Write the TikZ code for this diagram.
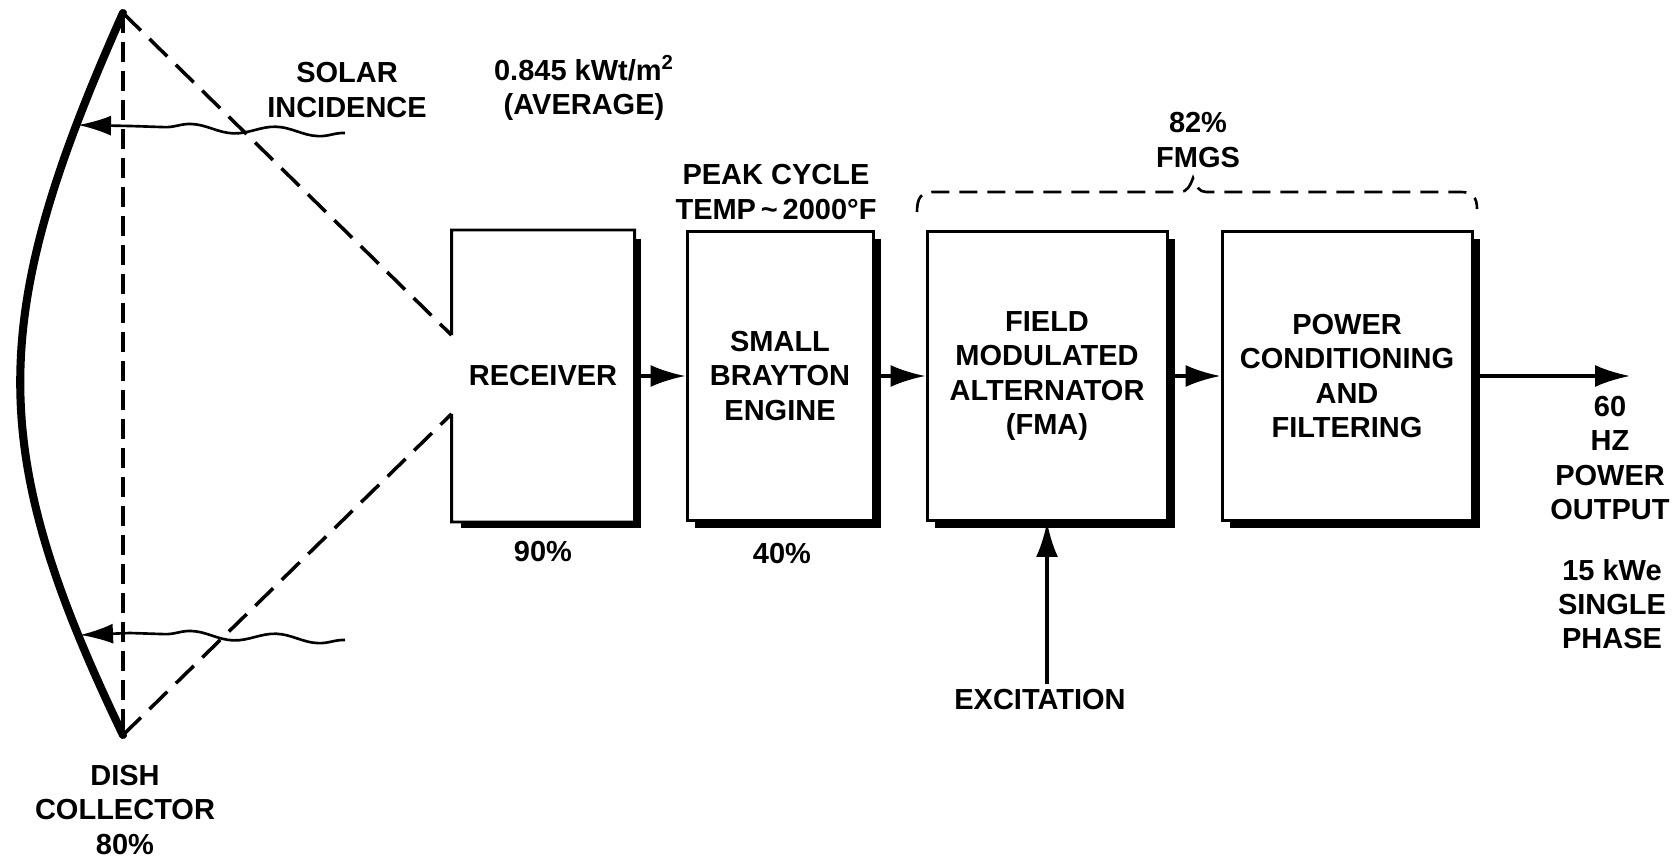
\documentclass[tikz,border=0pt]{standalone}
\usepackage{fontspec}
\setmainfont{Liberation Sans}
\usetikzlibrary{positioning,arrows.meta,calc,shadows,decorations.pathmorphing}

\tikzset{
  block/.style={draw, line width=1.7pt, fill=white, align=center, minimum height=57.8mm,
    drop shadow={shadow xshift=1.5mm, shadow yshift=-1.5mm, fill=black, opacity=1}},
  flow/.style={line width=1.9pt, -{Latex[length=7mm, width=4.4mm]}},
  cone/.style={line width=2pt, dash pattern=on 5mm off 2.4mm},
  dishaxis/.style={line width=2pt, dash pattern=on 4mm off 1.8mm},
  sunray/.style={line width=1.5pt, -{Latex[length=6.6mm, width=4mm]},
    decoration={snake, segment length=17mm, amplitude=0.8mm}},
  lbl/.style={align=center},
}

\begin{document}
\begin{tikzpicture}[x=0.2mm, y=-0.2mm, font=\bfseries\fontsize{16.5}{19.5}\selectfont]
  \useasboundingbox (0,0) rectangle (1677,859);
  % dish collector
  \coordinate (dishtop) at (123,13);
  \coordinate (dishbot) at (123,735);
  \draw[line width=4.6pt, line cap=round] (dishtop) .. controls (-14,320) and (-14,450) .. (dishbot);
  \draw[dishaxis] (dishtop) -- (dishbot);
  \node[lbl] (dishlbl) at (125,810) {DISH\\COLLECTOR\\80\%};

  % blocks
  \node[block, draw=none, minimum width=36mm] (recv) at (543,376) {RECEIVER};
  \node[block, minimum width=37.2mm] (engine) at (780,376) {SMALL\\BRAYTON\\ENGINE};
  \node[block, minimum width=48mm] (fma) at (1047,376) {FIELD\\MODULATED\\ALTERNATOR\\(FMA)};
  \node[block, minimum width=50mm] (pcf) at (1347,376) {POWER\\CONDITIONING\\AND\\FILTERING};

  % receiver outline, open aperture on the left
  \coordinate (apt) at ($(recv.north west)!0.36!(recv.south west)$);
  \coordinate (apb) at ($(recv.north west)!0.63!(recv.south west)$);
  \draw[line width=1.7pt] (apt) |- (recv.north east) |- (recv.south west) -- (apb);

  % cone onto the aperture
  \draw[cone] (dishtop) -- (apt);
  \draw[cone] (dishbot) -- (apb);

  % solar rays
  \coordinate (sun1) at (345,133); \coordinate (hit1) at (78,125);
  \coordinate (sun2) at (345,640); \coordinate (hit2) at (80,635);
  \draw[sunray] (sun1) decorate {-- (130,126)} -- (hit1);
  \draw[sunray] (sun2) decorate {-- (130,633)} -- (hit2);
  \node[lbl] (solar) at (347,90) {SOLAR\\INCIDENCE};
  \node[lbl] (flux) at (584,88) {0.845 kWt/m\textsuperscript{2}\\(AVERAGE)};

  % power flow
  \draw[flow] (recv) -- (engine);
  \draw[flow] (engine) -- (fma);
  \draw[flow] (fma) -- (pcf);
  \coordinate (out) at (1630,376);
  \draw[flow] (pcf) -- (out);
  \node[lbl] (outlbl) at (1610,458) {60\\HZ\\POWER\\OUTPUT};
  \node[lbl] (ratelbl) at (1612,604) {15 kWe\\SINGLE\\PHASE};

  % excitation
  \node (exc) at (1040,700) {EXCITATION};
  \draw[flow] (exc.north -| fma.south) -- (fma.south);

  % efficiencies, temperature
  \node (effrecv) at (543,552) {90\%};
  \node (effeng) at (782,554) {40\%};
  \node[lbl] (peak) at (776,192) {PEAK CYCLE\\TEMP\,\textasciitilde\,2000°F};

  % FMGS bracket
  \draw[line width=1.5pt, dash pattern=on 3.6mm off 2mm] (917,212) .. controls (917,198) and (921,192) .. (933,192)
    -- (1180,192) .. controls (1187,192) and (1190,186) .. (1193,178)
    .. controls (1196,186) and (1199,192) .. (1206,192) -- (1461,192)
    .. controls (1473,192) and (1477,198) .. (1477,209);
  \node[lbl] (fmgs) at (1198,140) {82\%\\FMGS};
\end{tikzpicture}
\end{document}
